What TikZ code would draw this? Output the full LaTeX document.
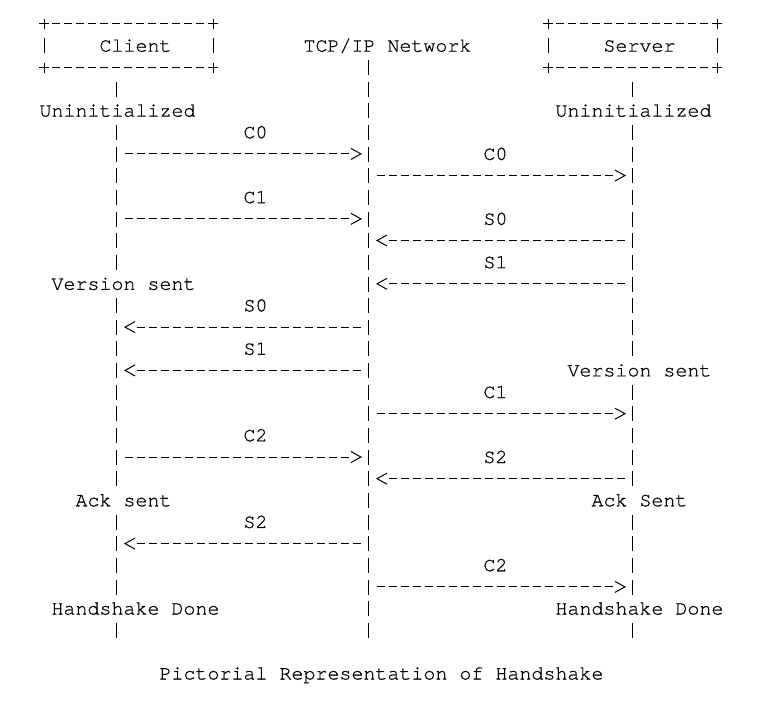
\documentclass[tikz,border=0pt]{standalone}
\usepackage{fontspec}
\newfontfamily\asciifont[FakeBold=0.7]{TeX Gyre Cursor}
\usetikzlibrary{arrows.meta,calc}

\begin{document}
\begin{tikzpicture}[x=12pt, y=-21.65pt, line width=1pt,
  lbl/.style={font=\asciifont\fontsize{20pt}{24pt}\selectfont, anchor=base west,
    inner sep=0pt, yshift=-6pt, fill=white, text height=14pt, text depth=2.5pt},
  hostbox/.style={minimum width=168pt, minimum height=43.3pt, inner sep=0pt},
  hyph/.style={dash pattern=on 8pt off 4pt},
  life/.style={dash pattern=on 15pt off 6.65pt},
  msg/.style={hyph, shorten >=9.6pt,
    postaction={draw, dash pattern=on 0pt off 2000pt, shorten >=0pt,
      -{Straight Barb[length=10pt, width=11pt]}}}]
  \useasboundingbox (-3.75,-1.11) rectangle (61.17,31.24);

  % host boxes
  \node[hostbox] (client) at (7,1) {};
  \node[hostbox] (server) at (49,1) {};
  \foreach \b in {client, server} {
    \draw[hyph] ([xshift=8pt]\b.north west) -- ([xshift=-8pt]\b.north east);
    \draw[hyph] ([xshift=8pt]\b.south west) -- ([xshift=-8pt]\b.south east);
    \foreach \a in {north west, north east, south west, south east}
      \draw ([xshift=-5pt]\b.\a) -- ([xshift=5pt]\b.\a)
            ([yshift=-5pt]\b.\a) -- ([yshift=5pt]\b.\a);
    \foreach \a in {west, east}
      \draw ([yshift=7.3pt]\b.\a) -- ([yshift=-7.7pt]\b.\a);
  }

  % lifelines
  \coordinate (cli) at (6,0);
  \coordinate (net) at (27,0);
  \coordinate (srv) at (49,0);
  \coordinate (cliTop) at (6,2.663);
  \coordinate (netTop) at (27,1.663);
  \coordinate (srvTop) at (49,2.663);
  \coordinate (cliEnd) at (6,28.355);
  \coordinate (netEnd) at (27,28.355);
  \coordinate (srvEnd) at (49,28.355);
  \draw[life] (cliTop) -- (cliEnd);
  \draw[life] (netTop) -- (netEnd);
  \draw[life] (srvTop) -- (srvEnd);

  % messages
  \foreach \r in {6,9,20}
    \draw[msg] ($(cli)+(0.667,\r)$) -- ($(net)+(-0.583,\r)$);
  \foreach \r in {14,16,24}
    \draw[msg] ($(net)+(-0.667,\r)$) -- ($(cli)+(0.583,\r)$);
  \foreach \r in {7,18,26}
    \draw[msg] ($(net)+(0.667,\r)$) -- ($(srv)+(-0.583,\r)$);
  \foreach \r in {10,12,21}
    \draw[msg] ($(srv)+(-0.667,\r)$) -- ($(net)+(0.583,\r)$);

  % labels
  \node[lbl] (tClient) at (4.5,1) {Client};
  \node[lbl] (tNet) at (21.5,1) {TCP/IP Network};
  \node[lbl] (tServer) at (46.5,1) {Server};
  \node[lbl] (cUninit) at (-0.5,4) {Uninitialized};
  \node[lbl] (sUninit) at (42.5,4) {Uninitialized};
  \foreach \r/\t in {5/C0, 8/C1, 13/S0, 15/S1, 19/C2, 23/S2}
    \node[lbl] (l\r) at (16.5,\r) {\t};
  \foreach \r/\t in {6/C0, 9/S0, 11/S1, 17/C1, 20/S2, 25/C2}
    \node[lbl] (r\r) at (36.5,\r) {\t};
  \node[lbl] (cVer) at (0.5,12) {Version sent};
  \node[lbl] (sVer) at (43.5,16) {Version sent};
  \node[lbl] (cAck) at (2.5,22) {Ack sent};
  \node[lbl] (sAck) at (45.5,22) {Ack Sent};
  \node[lbl] (cDone) at (0.5,27) {Handshake Done};
  \node[lbl] (sDone) at (42.5,27) {Handshake Done};
  \node[lbl] (caption) at (9.5,30) {Pictorial Representation of Handshake};
\end{tikzpicture}
\end{document}
